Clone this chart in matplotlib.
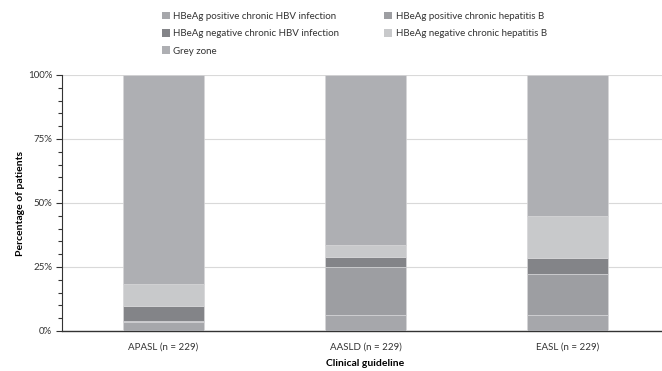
import numpy as np
import matplotlib
matplotlib.use('Agg')
import matplotlib.pyplot as plt
from matplotlib.ticker import MultipleLocator, PercentFormatter
from matplotlib.patches import Patch

plt.rcParams['font.family'] = ['Lato', 'DejaVu Sans']

# data (percent of patients)
guidelines = ['APASL (n = 229)', 'AASLD (n = 229)', 'EASL (n = 229)']
pos_infection = [3.5, 6.1, 6.1]
pos_hepatitis = [0.4, 18.8, 16.2]
neg_infection = [5.9, 4.1, 6.1]
neg_hepatitis = [8.7, 4.6, 16.5]
grey_zone = [81.5, 66.4, 55.1]

series = [
    ('HBeAg positive chronic HBV infection', pos_infection, '#a6a7ab'),
    ('HBeAg positive chronic hepatitis B', pos_hepatitis, '#9d9ea2'),
    ('HBeAg negative chronic HBV infection', neg_infection, '#838488'),
    ('HBeAg negative chronic hepatitis B', neg_hepatitis, '#c8c9cb'),
    ('Grey zone', grey_zone, '#aeafb3'),
]

fig = plt.figure(figsize=(6.62, 3.71), dpi=100)
ax = fig.add_axes([62 / 662, 40 / 371, 607 / 662, 256 / 371])

x = np.arange(len(guidelines))
bottom = np.zeros(len(guidelines))
handles = {}
for name, vals, col in series:
    vals = np.array(vals)
    ax.bar(x, vals, 0.4, bottom=bottom, color=col, edgecolor='#d6d6d8',
           linewidth=0.5, zorder=3)
    handles[name] = Patch(facecolor=col, edgecolor='none')
    bottom += vals

ax.set_xlim(-0.5, 2.5)
ax.set_ylim(0, 100)
ax.yaxis.set_major_locator(MultipleLocator(25))
ax.yaxis.set_minor_locator(MultipleLocator(5))
ax.yaxis.set_major_formatter(PercentFormatter(decimals=0))
ax.grid(axis='y', color='#d9d9d9', linewidth=0.8, zorder=0)
ax.set_xticks(x)
ax.set_xticklabels(guidelines)
ax.tick_params(axis='x', length=0, labelsize=7, colors='#333333', pad=8)
ax.tick_params(axis='y', which='major', length=4, width=0.8, labelsize=7,
               colors='#333333', pad=3)
ax.tick_params(axis='y', which='minor', length=3, width=0.8, colors='#333333')
for s in ['top', 'right']:
    ax.spines[s].set_visible(False)
ax.spines['left'].set_color('#333333')
ax.spines['bottom'].set_color('#333333')
ax.spines['bottom'].set_linewidth(1.0)

ax.set_ylabel('Percentage of patients', fontsize=7.5, fontweight='bold', labelpad=2)
ax.set_xlabel('Clinical guideline', fontsize=7.5, fontweight='bold', labelpad=6)

order = ['HBeAg positive chronic HBV infection', 'HBeAg negative chronic HBV infection',
         'Grey zone', 'HBeAg positive chronic hepatitis B', 'HBeAg negative chronic hepatitis B']
leg = fig.legend([handles[k] for k in order], order, ncol=2, loc='upper left',
                 bbox_to_anchor=(153 / 662, 1 - 3 / 371), frameon=False, fontsize=7,
                 handlelength=0.8, handleheight=0.8, handletextpad=0.4,
                 columnspacing=4.6, labelspacing=0.85)
for t in leg.get_texts():
    t.set_color('#333333')

fig.savefig('out.png', dpi=100)
